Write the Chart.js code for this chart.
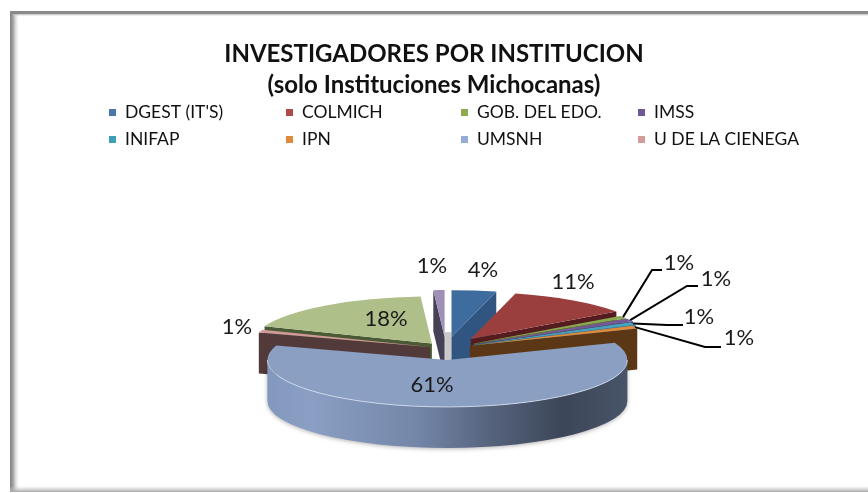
<!DOCTYPE html>
<html>
<head>
<meta charset="utf-8">
<style>html,body{margin:0;padding:0;background:#fff;}#w{position:absolute;left:0;top:0;width:868px;height:493px;}</style>
<script src="https://cdn.jsdelivr.net/npm/chart.js@4"></script>
</head>
<body>
<div id="w"><canvas id="c" width="868" height="493"></canvas></div>
<script>
const titleLines = ["INVESTIGADORES POR INSTITUCION", "(solo Instituciones Michocanas)"];
const legendLabels = ["DGEST (IT'S)", "COLMICH", "GOB. DEL EDO.", "IMSS", "INIFAP", "IPN", "UMSNH", "U DE LA CIENEGA"];
const categories = ["DGEST (IT'S)", "COLMICH", "GOB. DEL EDO.", "IMSS", "INIFAP", "IPN", "UMSNH", "U DE LA CIENEGA", "", ""];
const values = [4, 11, 1, 1, 1, 1, 61, 1, 18, 1];
const topColors = ["#3f6c9f", "#9b3f3e", "#8aa850", "#75589c", "#45a3bb", "#e08a3c", "#8a9fc2", "#d09a98", "#aebf8a", "#a090b8"];
const faceColors = ["#2f5580", "#551c20", "#5d7a30", "#4b3570", "#2a7488", "#5b3716", "#3d4759", "#533a3a", "#4a5a35", "#474157"];
const legendColors = ["#4a76aa", "#b04a48", "#8fa94f", "#6f5697", "#3f9fb6", "#e0893a", "#96acd6", "#d49b99"];
const explode = [44, 44, 34, 34, 30, 26, 44, 17, 24, 44];
const labelCentres = [[483,270],[573,282],[679,263],[716,279],[699,317],[739,338],[432,385],[237,327],[386,319],[432,266]];
const leaderElbows = {2:[[652,270],[662,270]],3:[[687,286],[698,286]],4:[[667,325],[683,325]],5:[[705,347],[721,347]]};
const legendX = [109,286,461,638], legendY = [112,139];

const CX = 446, CY = 348.5, RATIO = 0.261, DEPTH = 41;

const pie3d = {
  id: 'pie3d',
  beforeDraw(chart) {
    const c = chart.ctx;
    c.save();
    c.fillStyle = '#fff'; c.fillRect(0,0,868,493);
    let g = c.createLinearGradient(10,0,20,0);
    g.addColorStop(0,'rgba(130,130,130,1)'); g.addColorStop(.3,'rgba(150,150,150,.9)'); g.addColorStop(1,'rgba(255,255,255,0)');
    c.fillStyle = g; c.fillRect(10,12,10,480);
    c.fillStyle = '#8a8a8a'; c.fillRect(10,11,858,3);
    g = c.createLinearGradient(0,14,0,17);
    g.addColorStop(0,'rgba(170,170,170,.8)'); g.addColorStop(1,'rgba(255,255,255,0)');
    c.fillStyle = g; c.fillRect(13,14,855,3);
    g = c.createLinearGradient(0,486,0,492);
    g.addColorStop(0,'rgba(200,200,200,0)'); g.addColorStop(1,'rgba(170,170,170,1)');
    c.fillStyle = g; c.fillRect(10,486,858,6);
    c.restore();
    // legend
    c.save();
    c.font = '17.5px Lato, sans-serif';
    c.textBaseline = 'middle'; c.textAlign = 'left'; c.fillStyle = '#111';
    legendLabels.forEach((t,i)=>{
      const x = legendX[i%4], y = legendY[Math.floor(i/4)];
      c.fillStyle = legendColors[i]; c.fillRect(x, y-3, 7, 7);
      c.fillStyle = '#111'; c.fillText(t, x+16, y);
    });
    c.restore();
  },
  beforeDatasetsDraw(chart) {
    const c = chart.ctx, arcs = chart.getDatasetMeta(0).data;
    const off = i => { const a = arcs[i], m = (a.startAngle+a.endAngle)/2; return [Math.cos(m)*explode[i], Math.sin(m)*explode[i]]; };
    const pt = (i, ang, r) => {
      const a = arcs[i], o = off(i), R = r === undefined ? a.outerRadius : r;
      return [CX + o[0] + Math.cos(ang)*R, CY + RATIO*(o[1] + Math.sin(ang)*R)];
    };
    const quad = (i, ang) => {
      const p = pt(i, ang, 0), q = pt(i, ang);
      c.beginPath(); c.moveTo(p[0],p[1]); c.lineTo(q[0],q[1]); c.lineTo(q[0],q[1]+DEPTH); c.lineTo(p[0],p[1]+DEPTH); c.closePath();
      c.fillStyle = faceColors[i]; c.fill();
    };
    const faces = i => {
      const a = arcs[i];
      if (Math.sin(a.startAngle - Math.PI/2) > 0) quad(i, a.startAngle);
      if (Math.sin(a.endAngle + Math.PI/2) > 0) quad(i, a.endAngle);
    };
    const top = i => {
      const a = arcs[i], o = off(i);
      c.save();
      c.translate(CX, CY); c.scale(1, RATIO); c.translate(-a.x + o[0], -a.y + o[1]);
      a.draw(c);
      c.restore();
    };
    const rim = i => {
      const a = arcs[i], o = off(i), r = a.outerRadius;
      const x = CX + o[0], y = CY + RATIO*o[1];
      const g = c.createLinearGradient(x-r,0,x+r,0);
      g.addColorStop(0,'#8298bd'); g.addColorStop(.12,'#8a9fc3'); g.addColorStop(.42,'#7386a8');
      g.addColorStop(.62,'#55637c'); g.addColorStop(.82,'#3c4658'); g.addColorStop(1,'#485468');
      c.save();
      c.shadowColor = 'rgba(0,0,0,.3)'; c.shadowBlur = 4; c.shadowOffsetY = 1;
      c.beginPath();
      c.ellipse(x, y, r, r*RATIO, 0, 0, Math.PI);
      c.lineTo(x-r, y+DEPTH);
      c.ellipse(x, y+DEPTH, r, r*RATIO, 0, Math.PI, 0, true);
      c.closePath();
      c.fillStyle = g; c.fill();
      c.restore();
    };
    const rimLine = i => {
      const a = arcs[i], o = off(i), r = a.outerRadius;
      c.beginPath(); c.ellipse(CX+o[0], CY+RATIO*o[1], r, r*RATIO, 0, 0, Math.PI);
      c.strokeStyle = 'rgba(215,225,240,.8)'; c.lineWidth = 1; c.stroke();
    };
    faces(8); faces(7); top(7); top(8);
    faces(9); top(9);
    const la = pt(9, arcs[9].endAngle, 0), ba = pt(0, arcs[0].startAngle, 0);
    c.fillStyle = '#c9c9c9'; c.fillRect(la[0]+.5, ba[1]-5, ba[0]-la[0]-.5, DEPTH);
    [0,1,2,3,4,5].forEach(i => { faces(i); top(i); });
    rim(6); top(6); rimLine(6);
    // labels
    c.save();
    c.strokeStyle = '#000'; c.lineWidth = 2; c.lineJoin = 'miter';
    Object.keys(leaderElbows).forEach(k => {
      const i = +k, a = arcs[i], p = pt(i, (a.startAngle+a.endAngle)/2);
      c.beginPath(); c.moveTo(p[0],p[1]);
      leaderElbows[k].forEach(q => c.lineTo(q[0],q[1]));
      c.stroke();
    });
    c.font = '22px Lato, sans-serif';
    c.textAlign = 'center'; c.textBaseline = 'middle'; c.fillStyle = '#1a1a1a';
    const total = values.reduce((s,v)=>s+v,0);
    values.forEach((v,i)=> c.fillText(Math.round(v/total*100)+'%', labelCentres[i][0], labelCentres[i][1]));
    c.restore();
    return false;
  }
};

new Chart(document.getElementById('c'), {
  type: 'pie',
  data: { labels: categories, datasets: [{ data: values, backgroundColor: topColors, borderWidth: 0, radius: 180 }] },
  options: {
    responsive: false, animation: false,
    layout: { padding: { top: 38 } },
    plugins: {
      legend: { display: false },
      tooltip: { enabled: false },
      title: { display: true, text: titleLines, color: '#111', align: 'center',
        font: { family: 'Lato, sans-serif', size: 24, weight: 'bold', lineHeight: 1.32 }, padding: 0 }
    }
  },
  plugins: [pie3d]
});
</script>
</body>
</html>
